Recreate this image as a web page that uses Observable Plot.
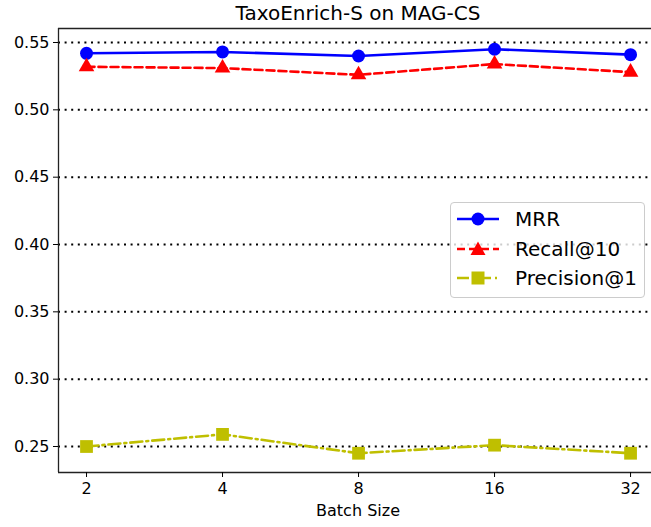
<!DOCTYPE html>
<html>
<head>
<meta charset="utf-8">
<script src="https://cdn.jsdelivr.net/npm/d3@7"></script>
<script src="https://cdn.jsdelivr.net/npm/@observablehq/plot@0.6"></script>
<style>
  body { margin: 0; background: #fff; font-family: "DejaVu Sans", sans-serif; }
  #wrap { position: relative; width: 651px; height: 527px; overflow: hidden; }
  #legend { position: absolute; left: 450px; top: 202px; width: 195px; height: 96px;
    border: 1px solid #cccccc; border-radius: 4px; background: rgba(255,255,255,0.8);
    box-sizing: border-box; font-size: 20px; color: #000; }
  .row { position: absolute; left: 6px; height: 24px; display: flex; align-items: center; }
  .row span { margin-left: 16px; }
</style>
</head>
<body>
<div id="wrap"></div>
<script>
const batchSizes = ["2", "4", "8", "16", "32"];
const mrr = [0.542, 0.543, 0.540, 0.545, 0.541];
const recall10 = [0.532, 0.531, 0.526, 0.534, 0.528];
const precision1 = [0.250, 0.259, 0.245, 0.251, 0.245];
const yTicks = [0.25, 0.30, 0.35, 0.40, 0.45, 0.50, 0.55];
const seriesNames = ["MRR", "Recall@10", "Precision@1"];
const colors = ["#0000ff", "#ff0000", "#bfbf00"];

const table = batchSizes.map((b, i) => ({i, b, mrr: mrr[i], recall: recall10[i], prec: precision1[i]}));
const xDomain = [-0.206, 4.154];
const yDomain = [0.2307, 0.5604];
const font = "DejaVu Sans";

const chart = Plot.plot({
  width: 651,
  height: 527,
  marginLeft: 58,
  marginRight: 0,
  marginTop: 28,
  marginBottom: 55,
  style: {fontFamily: font, fontSize: "15px", color: "#000", background: "#fff"},
  x: {type: "linear", domain: xDomain},
  y: {domain: yDomain},
  marks: [
    Plot.ruleY(yTicks, {stroke: "black", strokeWidth: 2, strokeDasharray: "2,4.6"}),
    Plot.ruleY([yDomain[0], yDomain[1]], {stroke: "#222", strokeWidth: 1.3}),
    Plot.ruleX([xDomain[0]], {stroke: "#222", strokeWidth: 1.3}),
    Plot.axisY({ticks: yTicks, tickFormat: d3.format(".2f"), tickSize: 5, tickPadding: 4, label: null, fontSize: 16}),
    Plot.axisX({ticks: table.map(d => d.i), tickFormat: i => batchSizes[i], tickSize: 5, tickPadding: 5, label: null, fontSize: 16}),
    Plot.line(table, {x: "i", y: "mrr", stroke: colors[0], strokeWidth: 2.6}),
    Plot.line(table, {x: "i", y: "recall", stroke: colors[1], strokeWidth: 2.6, strokeDasharray: "8,4"}),
    Plot.line(table, {x: "i", y: "prec", stroke: colors[2], strokeWidth: 2.6, strokeDasharray: "12,4,2,4"}),
    Plot.dot(table, {x: "i", y: "mrr", fill: colors[0], r: 6.5, symbol: "circle"}),
    Plot.dot(table, {x: "i", y: "recall", fill: colors[1], r: 5.8, symbol: "triangle"}),
    Plot.dot(table, {x: "i", y: "prec", fill: colors[2], r: 7.2, symbol: "square"}),
    Plot.text(["TaxoEnrich-S on MAG-CS"], {frameAnchor: "top", dy: -9, lineAnchor: "bottom", dx: 3, fontSize: 20, fill: "#000"}),
    Plot.text(["Batch Size"], {frameAnchor: "bottom", dy: 43, dx: 3, fontSize: 16, fill: "#000"})
  ]
});
document.getElementById("wrap").appendChild(chart);

// legend
const legend = document.createElement("div");
legend.id = "legend";
const sym = [
  '<circle cx="21" cy="9" r="6.5" fill="#0000ff"/>',
  '<path d="M21,1.5 L28.5,15 L13.5,15 Z" fill="#ff0000"/>',
  '<rect x="14.5" y="2.5" width="13" height="13" fill="#bfbf00"/>'
];
const dash = ["", "8,4", "12,4,2,4"];
seriesNames.forEach((name, k) => {
  const row = document.createElement("div");
  row.className = "row";
  row.style.top = (4 + k * 29.5) + "px";
  row.innerHTML = `<svg width="42" height="18"><line x1="0" x2="42" y1="9" y2="9" stroke="${colors[k]}" stroke-width="2.6" ${dash[k] ? `stroke-dasharray="${dash[k]}"` : ""}/>${sym[k]}</svg><span>${name}</span>`;
  legend.appendChild(row);
});
document.getElementById("wrap").appendChild(legend);
</script>
</body>
</html>
